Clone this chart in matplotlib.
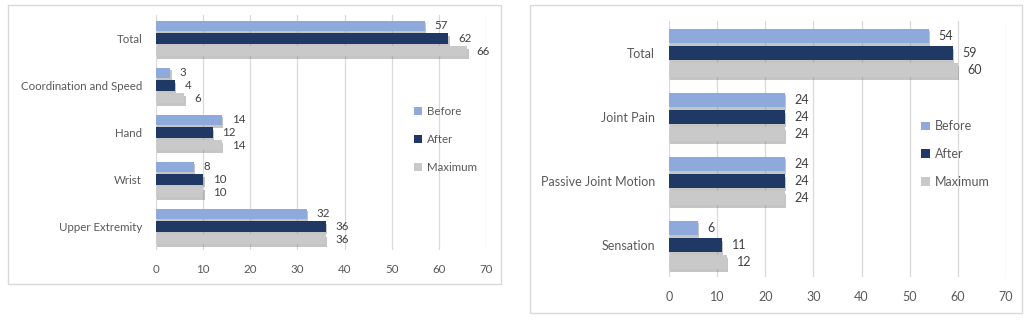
import matplotlib
matplotlib.use("Agg")
import matplotlib.pyplot as plt
import matplotlib.patheffects as pe
from matplotlib.patches import Rectangle, Patch
import numpy as np

# ---- data ----
left_categories = ["Total", "Coordination and Speed", "Hand", "Wrist", "Upper Extremity"]
left_before = [57, 3, 14, 8, 32]
left_after = [62, 4, 12, 10, 36]
left_maximum = [66, 6, 14, 10, 36]

right_categories = ["Total", "Joint Pain", "Passive Joint Motion", "Sensation"]
right_before = [54, 24, 24, 6]
right_after = [59, 24, 24, 11]
right_maximum = [60, 24, 24, 12]

series_names = ["Before", "After", "Maximum"]
x_ticks = [0, 10, 20, 30, 40, 50, 60, 70]

colors = ["#8EA9DB", "#1F3864", "#C9C9C9"]
TXT = "#595959"
LBL = "#404040"
GRID = "#D9D9D9"
FONT = "Lato"

W, H = 1030, 325
fig = plt.figure(figsize=(W / 100, H / 100), dpi=100)
fig.patch.set_facecolor("white")

def px_rect(x0, y0, x1, y1):
    return [x0 / W, 1 - y1 / H, (x1 - x0) / W, (y1 - y0) / H]

# panel borders
for (x0, y0, x1, y1) in [(8, 5, 501, 284), (530, 5, 1022, 313)]:
    fig.patches.append(Rectangle((x0 / W, 1 - y1 / H), (x1 - x0) / W, (y1 - y0) / H,
                                 transform=fig.transFigure, fill=False,
                                 edgecolor="#D9D9D9", linewidth=1.0))

shadow = [pe.SimplePatchShadow(offset=(1, -2), shadow_rgbFace="#7F7F7F", alpha=0.45), pe.Normal()]

def draw(ax, cats, data, leg_y, leg_x, fs, lspace):
    n = len(cats)
    y = np.arange(n)
    step = 0.27
    h = 0.22
    for i, (vals, c) in enumerate(zip(data, colors)):
        bars = ax.barh(y + (i - 1) * step, vals, height=h, color=c, zorder=3)
        for b in bars:
            b.set_path_effects(shadow)
        for yy, v in zip(y + (i - 1) * step, vals):
            ax.annotate(str(v), (v, yy), xytext=(7, 0), textcoords="offset points",
                        va="center", ha="left", fontsize=fs, color=LBL, family=FONT)
    ax.set_xlim(0, 70)
    ax.set_ylim(n - 0.5, -0.5)
    ax.set_xticks(x_ticks)
    ax.set_yticks(y)
    ax.set_yticklabels(cats)
    ax.xaxis.grid(True, color=GRID, linewidth=0.9, zorder=0)
    ax.set_axisbelow(True)
    for s in ax.spines.values():
        s.set_visible(False)
    ax.tick_params(axis="both", length=0, labelsize=fs, labelcolor=TXT)
    ax.tick_params(axis="x", pad=10)
    ax.tick_params(axis="y", pad=10)
    for t in ax.get_xticklabels() + ax.get_yticklabels():
        t.set_family(FONT)
    handles = [Patch(facecolor=c, edgecolor="none", label=nm) for c, nm in zip(colors, series_names)]
    leg = ax.legend(handles=handles, loc="upper left", bbox_to_anchor=(leg_x, leg_y),
                    bbox_transform=fig.transFigure,
                    frameon=False, handlelength=0.7, handleheight=0.7, handletextpad=0.4,
                    labelspacing=lspace, prop={"family": FONT, "size": fs})
    for t in leg.get_texts():
        t.set_color(TXT)

ax1 = fig.add_axes(px_rect(156, 15, 486, 250))
draw(ax1, left_categories, [left_before, left_after, left_maximum], 1 - 96 / H, 404 / W, 8.3, 1.45)

ax2 = fig.add_axes(px_rect(669, 21, 1006, 277))
draw(ax2, right_categories, [right_before, right_after, right_maximum], 1 - 109 / H, 910 / W, 9.0, 1.25)

fig.savefig("out.png", dpi=100, facecolor="white")
